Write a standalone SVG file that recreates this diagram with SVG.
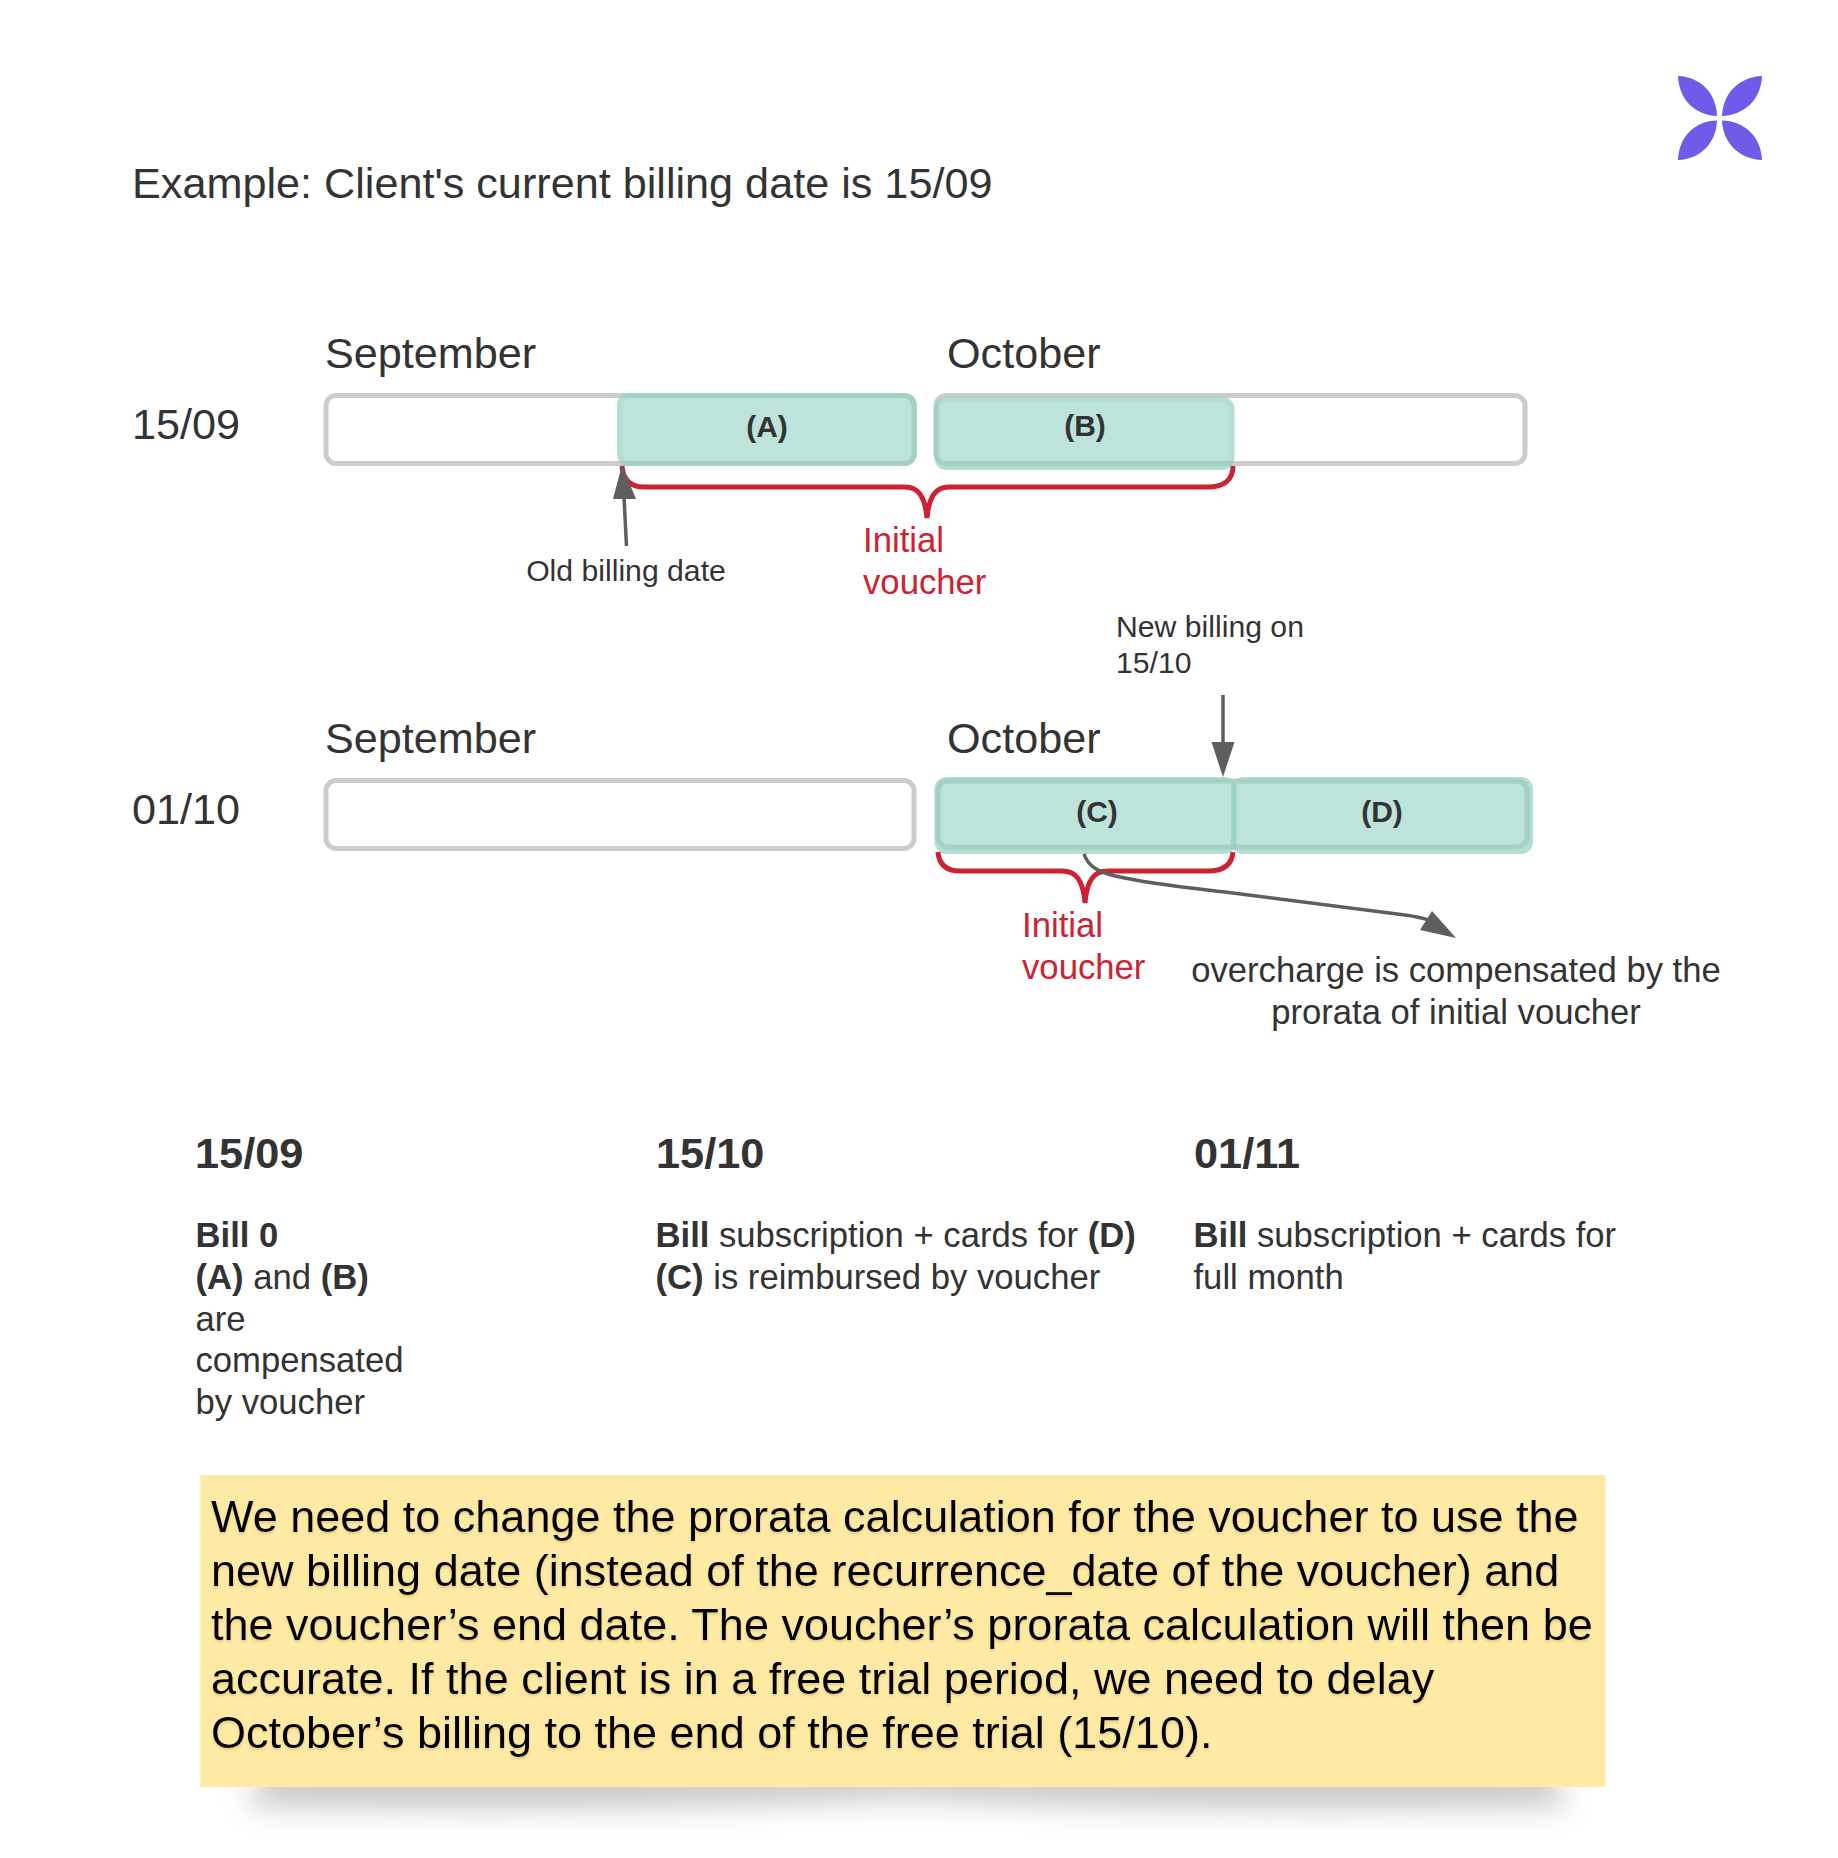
<svg xmlns="http://www.w3.org/2000/svg" width="1838" height="1858" viewBox="0 0 1838 1858">
<defs>
<style>
text{font-family:"Liberation Sans",Arial,sans-serif;fill:#333}
.m{font-size:43.2px}
.r{font-size:34.7px;fill:#cc2233}
.s{font-size:30.2px}
.l{font-size:30px;font-weight:700;text-anchor:middle}
.h{font-size:43.3px;font-weight:700}
.b{font-size:34.65px}
.b tspan.x{font-weight:700}
.y{font-size:45px;fill:#000}
.bar{fill:#fff;stroke:#ccc;stroke-width:5}
.tl{fill:#91d0c3;fill-opacity:.6}
.te{fill:none;stroke:#91d0c3;stroke-opacity:.25;stroke-width:5}
.br{fill:none;stroke:#cc2233;stroke-width:5}
.c{fill:none;stroke:#5e5e5e;stroke-width:3.500}
.a{fill:#5e5e5e}
</style>
<filter id="blur" x="-5%" y="-150%" width="110%" height="400%"><feGaussianBlur stdDeviation="15"/></filter>
<filter id="ts" x="-2%" y="-10%" width="104%" height="120%"><feDropShadow dx="0" dy="2" stdDeviation="1" flood-color="#a08a30" flood-opacity=".3"/></filter>
</defs>
<rect width="1838" height="1858" fill="#fff"/>
<g id="logo" fill="#6c5ce7">
<path d="M1678 76C1700 77 1716 92 1717 116C1695 115 1679 100 1678 76Z"/>
<path d="M1762 76C1740 77 1723 92 1722 116C1744 115 1761 100 1762 76Z"/>
<path d="M1678 160C1700 159 1716 144 1717 120.500C1695 121 1679 136 1678 160Z"/>
<path d="M1762 160C1740 159 1723 144 1722 120.500C1744 121 1761 136 1762 160Z"/>
</g>
<text id="title" class="m" x="132" y="198">Example: Client's current billing date is 15/09</text>
<g id="row1">
<text class="m" x="132" y="439">15/09</text>
<text class="m" x="325" y="368">September</text>
<text class="m" x="947" y="368">October</text>
<rect id="bar-sep-1" class="bar" x="326" y="395.500" width="588" height="68" rx="10"/>
<rect id="bar-oct-1" class="bar" x="936" y="395.500" width="589" height="68" rx="10"/>
</g>
<g id="node-a"><rect class="tl" x="617" y="393" width="300" height="73" rx="12"/><rect class="te" x="619.500" y="395.500" width="295" height="68" rx="10"/><text class="l" x="767" y="437">(A)</text></g>
<g id="node-b"><rect class="tl" x="934.500" y="397" width="300" height="73" rx="12"/><rect class="te" x="937" y="399.500" width="295" height="68" rx="10"/><text class="l" x="1085" y="435.500">(B)</text></g>
<g id="row2">
<text class="m" x="132" y="824">01/10</text>
<text class="m" x="325" y="753">September</text>
<text class="m" x="947" y="753">October</text>
<rect id="bar-sep-2" class="bar" x="326" y="780.500" width="588" height="68" rx="10"/>
<rect id="bar-oct-2" class="bar" x="938" y="781" width="589" height="66" rx="10"/>
</g>
<g id="node-c"><rect class="tl" x="934.500" y="777" width="302" height="77" rx="12"/><rect class="te" x="937" y="779.500" width="297" height="72" rx="10"/><text class="l" x="1097" y="822">(C)</text></g>
<g id="node-d"><rect class="tl" x="1231" y="777" width="302" height="77" rx="12"/><rect class="te" x="1233.500" y="779.500" width="297" height="72" rx="10"/><text class="l" x="1382" y="822">(D)</text></g>
<g id="connectors">
<path class="br" d="M622 466C623 480 630 487 644 487H905C918 487 925 496 927 518C929 496 936 487 949 487H1208C1224 487 1233 480 1233 466"/>
<path class="br" d="M938 852C939 864 946 871 960 871H1062C1076 871 1083 880 1085 903C1087 880 1094 871 1108 871H1208C1224 871 1232 864 1233 852"/>
<path class="c" d="M626.500 546L624 497"/>
<polygon class="a" points="622,465 636,499 613,499"/>
<path class="c" d="M1223 695V744"/>
<polygon class="a" points="1223,777 1211.500,742 1234.500,742"/>
<path class="c" d="M1084 854C1088 866 1098 872 1115 876C1150 884 1190 888 1225 892L1405 915Q1420 917 1432 921"/>
<polygon class="a" points="1456,938 1420,930 1432,911"/>
</g>
<g id="labels">
<text class="r" x="863" y="552">Initial</text>
<text class="r" x="863" y="594">voucher</text>
<text class="r" x="1022" y="937">Initial</text>
<text class="r" x="1022" y="979">voucher</text>
<text class="s" x="626" y="581" text-anchor="middle">Old billing date</text>
<text class="s" x="1116" y="637">New billing on</text>
<text class="s" x="1116" y="673">15/10</text>
<text class="b" x="1456" y="982" text-anchor="middle">overcharge is compensated by the</text>
<text class="b" x="1456" y="1024" text-anchor="middle">prorata of initial voucher</text>
</g>
<g id="col-1">
<text class="h" x="195" y="1168">15/09</text>
<text class="b" x="195.500" y="1247"><tspan class="x">Bill 0</tspan></text>
<text class="b" x="195.500" y="1289"><tspan class="x">(A)</tspan> and <tspan class="x">(B)</tspan></text>
<text class="b" x="195.500" y="1331">are</text>
<text class="b" x="195.500" y="1372">compensated</text>
<text class="b" x="195.500" y="1414">by voucher</text>
</g>
<g id="col-2">
<text class="h" x="656" y="1168">15/10</text>
<text class="b" x="655.500" y="1247"><tspan class="x">Bill</tspan> subscription + cards for <tspan class="x">(D)</tspan></text>
<text class="b" x="655.500" y="1289"><tspan class="x">(C)</tspan> is reimbursed by voucher</text>
</g>
<g id="col-3">
<text class="h" x="1194" y="1168">01/11</text>
<text class="b" x="1193.500" y="1247"><tspan class="x">Bill</tspan> subscription + cards for</text>
<text class="b" x="1193.500" y="1289">full month</text>
</g>
<g id="note">
<path d="M270 1770H1545L1570 1804Q1200 1812 905 1797Q600 1812 245 1804Z" fill="#777" opacity=".45" filter="url(#blur)"/>
<rect x="200.500" y="1475" width="1405" height="312" fill="#fee9a5"/>
<g filter="url(#ts)">
<text class="y" x="211" y="1532">We need to change the prorata calculation for the voucher to use the</text>
<text class="y" x="211" y="1586">new billing date (instead of the recurrence_date of the voucher) and</text>
<text class="y" x="211" y="1640">the voucher’s end date. The voucher’s prorata calculation will then be</text>
<text class="y" x="211" y="1694">accurate. If the client is in a free trial period, we need to delay</text>
<text class="y" x="211" y="1748">October’s billing to the end of the free trial (15/10).</text>
</g>
</g>
</svg>
